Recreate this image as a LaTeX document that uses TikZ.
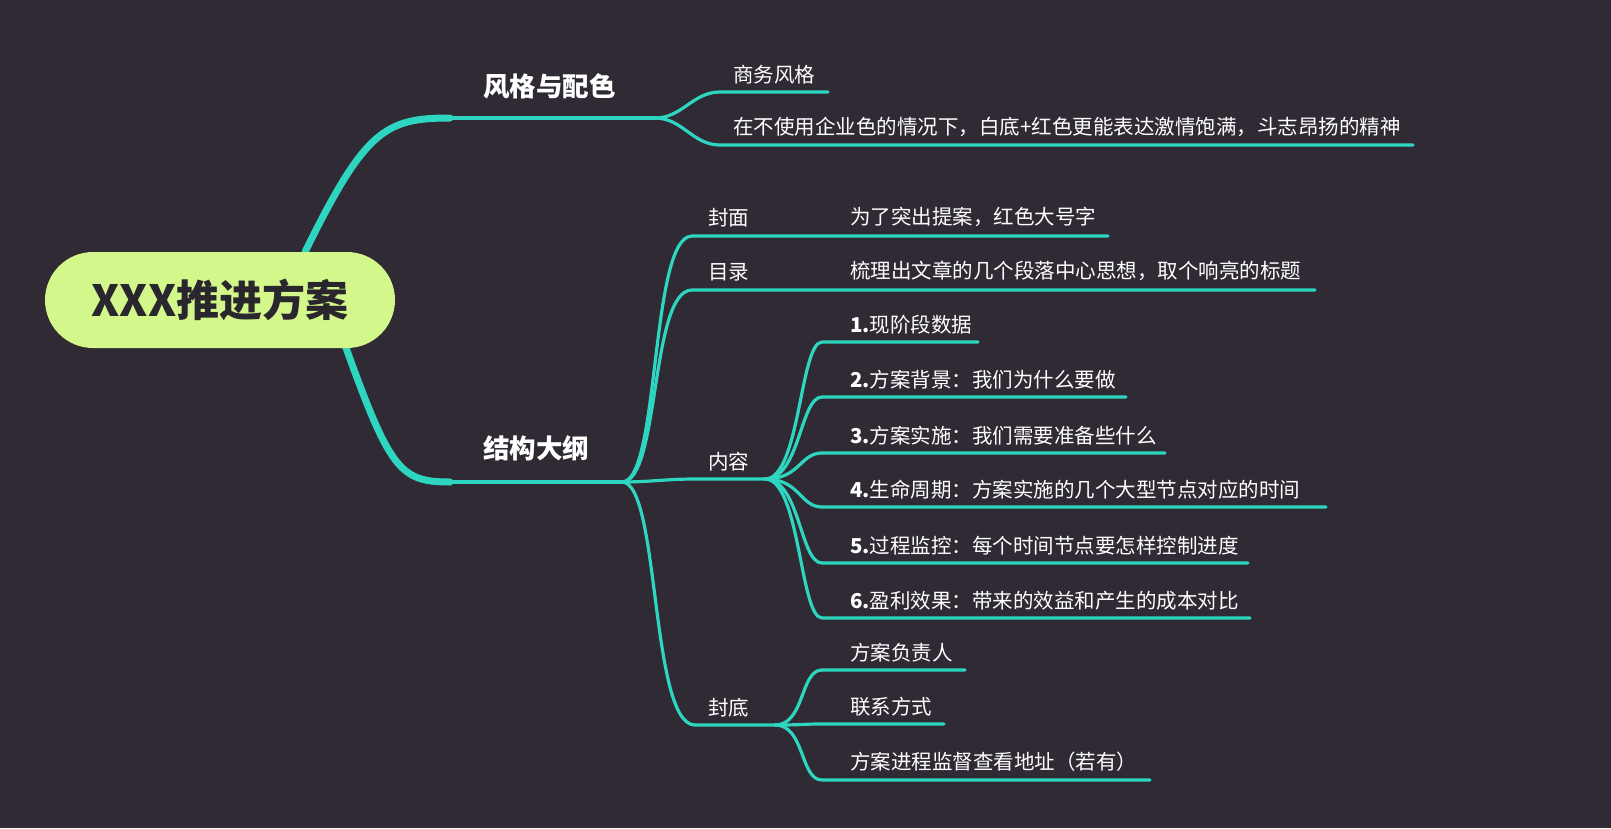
\documentclass[tikz,border=0pt]{standalone}
\usepackage{fontspec}
\setmainfont{Noto Sans CJK SC}
\begin{document}
\begin{tikzpicture}[x=1pt,y=-1pt,
  br/.style={draw=teal0,line width=3.2pt,line cap=round},
  thick br/.style={draw=teal0,line width=7pt,line cap=round},
  txt/.style={anchor=south west,inner sep=0pt,text=white,font=\fontsize{20.5}{20.5}\selectfont},
  lbl/.style={anchor=south west,inner sep=0pt,text=white,font=\bfseries\fontsize{26.5}{26.5}\selectfont}]
\definecolor{bg}{HTML}{2F2A33}
\definecolor{teal0}{HTML}{2ED6C1}
\definecolor{rootc}{HTML}{D3F78A}
\fill[bg] (0,0) rectangle (1611,828);
% main branches
\coordinate (r1) at (305,252); \coordinate (b1) at (450,118); \coordinate (b1e) at (655,118);
\coordinate (r2) at (345,345); \coordinate (b2) at (450,482); \coordinate (b2e) at (622,482);
\draw[thick br] (r1) .. controls (365,130) and (385,118) .. (b1);
\draw[br,line width=4pt] (b1) -- (b1e);
\draw[thick br] (r2) .. controls (390,470) and (400,482) .. (b2);
\draw[br,line width=4pt] (b2) -- (b2e);
\node[draw=none,fill=rootc,rounded corners=48pt,minimum width=350pt,minimum height=96pt,text=bg!90!black,font=\bfseries\fontsize{43}{43}\selectfont] (root) at (220,300) {XXX推进方案};
\node[lbl] (l1) at (483,99) {风格与配色};
\node[lbl] (l2) at (483,461) {结构大纲};
% branch 1 children
\coordinate (s1) at (720,92); \coordinate (s1e) at (828,92);
\coordinate (s2) at (720,145); \coordinate (s2e) at (1413,145);
\draw[br] (b1e) to[out=0,in=180] (s1) -- (s1e);
\draw[br] (b1e) to[out=0,in=180] (s2) -- (s2e);
\node[txt] (t1) at (733,84) {商务风格};
\node[txt] (t2) at (733,137) {在不使用企业色的情况下，白底+红色更能表达激情饱满，斗志昂扬的精神};
% branch 2 children
\coordinate (fm) at (692,236); \coordinate (fme) at (1108,236);
\coordinate (ml) at (692,290); \coordinate (mle) at (1315,290);
\coordinate (nr) at (695,479); \coordinate (nre) at (765,479);
\coordinate (fd) at (695,725); \coordinate (fde) at (775,725);
\draw[br] (b2e) .. controls (660,482) and (650,236) .. (fm) -- (fme);
\draw[br] (b2e) .. controls (660,482) and (650,290) .. (ml) -- (mle);
\draw[br] (b2e) to[out=0,in=180] (nr) -- (nre);
\draw[br] (b2e) .. controls (660,482) and (650,725) .. (fd) -- (fde);
\node[txt] (tfm) at (708,227) {封面};
\node[txt] (tml) at (708,281) {目录};
\node[txt] (tnr) at (708,471) {内容};
\node[txt] (tfd) at (708,717) {封底};
\node[txt] (tfm1) at (850,227) {为了突出提案，红色大号字};
\node[txt] (tml1) at (850,281) {梳理出文章的几个段落中心思想，取个响亮的标题};
% 内容 children
\foreach \y/\e/\t [count=\i] in {342/978/{\textbf{1.}现阶段数据},397/1126/{\textbf{2.}方案背景：我们为什么要做},453/1165/{\textbf{3.}方案实施：我们需要准备些什么},507/1326/{\textbf{4.}生命周期：方案实施的几个大型节点对应的时间},563/1248/{\textbf{5.}过程监控：每个时间节点要怎样控制进度},618/1250/{\textbf{6.}盈利效果：带来的效益和产生的成本对比}}{
  \coordinate (c\i) at (822,\y); \coordinate (ce\i) at (\e,\y);
  \draw[br] (nre) .. controls (800,479) and (800,\y) .. (c\i) -- (ce\i);
  \node[txt] (tc\i) at (850,\y-8) {\t};
}
% 封底 children
\foreach \y/\e/\t [count=\i] in {670/965/方案负责人,724/944/联系方式,780/1150/方案进程监督查看地址（若有）}{
  \coordinate (d\i) at (822,\y); \coordinate (de\i) at (\e,\y);
  \draw[br] (fde) .. controls (805,725) and (800,\y) .. (d\i) -- (de\i);
  \node[txt] (td\i) at (850,\y-8) {\t};
}
\end{tikzpicture}
\end{document}
